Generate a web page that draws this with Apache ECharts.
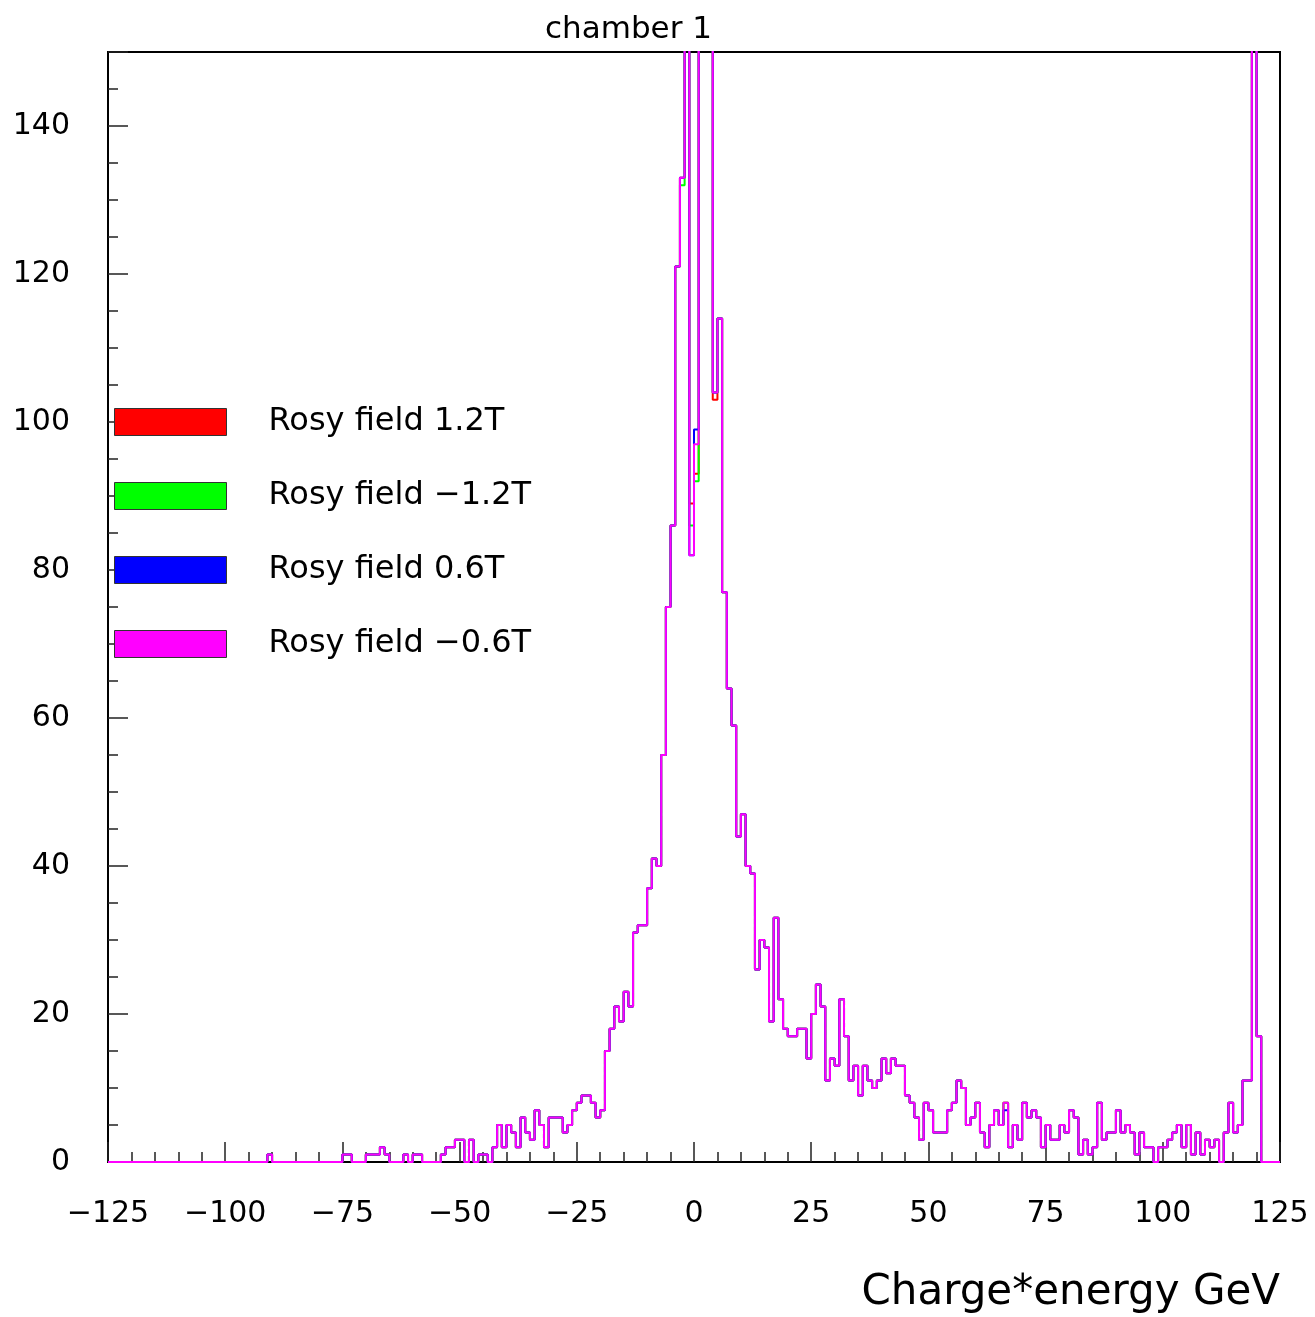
<!DOCTYPE html>
<html>
<head>
<meta charset="utf-8">
<script src="https://cdn.jsdelivr.net/npm/echarts@6/dist/echarts.min.js"></script>
<style>
html,body{margin:0;padding:0;background:#fff;}
#chart{width:1315px;height:1317px;}
</style>
</head>
<body>
<div id="chart"></div>
<script>
// Histogram binning: 250 bins of 1 GeV from -125 to 125
const binStart = -125;
const binWidth = 1;
const seriesNames = ['Rosy field 1.2T', 'Rosy field \u22121.2T', 'Rosy field 0.6T', 'Rosy field \u22120.6T'];
const seriesColors = ['#ff0000', '#00ff00', '#0000ff', '#ff00ff'];
const xTickLabels = [-125, -100, -75, -50, -25, 0, 25, 50, 75, 100, 125];
const yTickLabels = [0, 20, 40, 60, 80, 100, 120, 140];

// counts per bin (bins -125 .. 124); bins above 150 run off the top of the plot
const countsPos12 = [
  0,0,0,0,0,0,0,0,0,0,
  0,0,0,0,0,0,0,0,0,0,
  0,0,0,0,0,0,0,0,0,0,
  0,0,0,0,1,0,0,0,0,0,
  0,0,0,0,0,0,0,0,0,0,
  1,1,0,0,0,1,1,1,2,1,
  0,0,0,1,0,1,1,0,0,0,
  0,1,2,2,3,3,0,3,0,1,
  1,0,2,5,2,5,4,2,6,4,
  3,7,5,2,6,6,6,4,5,7,
  8,9,9,8,6,7,15,18,21,19,
  23,21,31,32,32,37,41,40,55,75,
  86,121,133,170,89,93,240,300,210,103,
  114,77,64,59,44,47,40,39,26,30,
  29,19,33,22,18,17,17,18,18,14,
  20,24,21,11,14,13,22,17,11,13,
  9,13,11,10,11,14,12,14,13,13,
  9,8,6,3,8,7,4,4,4,7,
  8,11,10,5,6,8,4,2,5,7,
  5,8,2,5,3,8,6,7,6,2,
  5,3,3,5,4,7,6,1,3,1,
  2,8,3,4,4,7,4,5,4,1,
  4,2,2,0,2,2,3,4,5,2,
  5,1,4,1,3,2,3,0,4,8,
  4,5,11,11,330,17,0,0,0,0
];
const countsNeg12 = [
  0,0,0,0,0,0,0,0,0,0,
  0,0,0,0,0,0,0,0,0,0,
  0,0,0,0,0,0,0,0,0,0,
  0,0,0,0,1,0,0,0,0,0,
  0,0,0,0,0,0,0,0,0,0,
  1,1,0,0,0,1,1,1,2,1,
  0,0,0,1,0,1,1,0,0,0,
  0,1,2,2,3,3,0,3,0,1,
  1,0,2,5,2,5,4,2,6,4,
  3,7,5,2,6,6,6,4,5,7,
  8,9,9,8,6,7,15,18,21,19,
  23,21,31,32,32,37,41,40,55,75,
  86,121,132,170,86,92,240,300,210,104,
  114,77,64,59,44,47,40,39,26,30,
  29,19,33,22,18,17,17,18,18,14,
  20,24,21,11,14,13,22,17,11,13,
  9,13,11,10,11,14,12,14,13,13,
  9,8,6,3,8,7,4,4,4,7,
  8,11,10,5,6,8,4,2,5,7,
  5,8,2,5,3,8,6,7,6,2,
  5,3,3,5,4,7,6,1,3,1,
  2,8,3,4,4,7,4,5,4,1,
  4,2,2,0,2,2,3,4,5,2,
  5,1,4,1,3,2,3,0,4,8,
  4,5,11,11,330,17,0,0,0,0
];
const countsPos06 = [
  0,0,0,0,0,0,0,0,0,0,
  0,0,0,0,0,0,0,0,0,0,
  0,0,0,0,0,0,0,0,0,0,
  0,0,0,0,1,0,0,0,0,0,
  0,0,0,0,0,0,0,0,0,0,
  1,1,0,0,0,1,1,1,2,1,
  0,0,0,1,0,1,1,0,0,0,
  0,1,2,2,3,3,0,3,0,1,
  1,0,2,5,2,5,4,2,6,4,
  3,7,5,2,6,6,6,4,5,7,
  8,9,9,8,6,7,15,18,21,19,
  23,21,31,32,32,37,41,40,55,75,
  86,121,133,170,82,99,240,300,210,104,
  114,77,64,59,44,47,40,39,26,30,
  29,19,33,22,18,17,17,18,18,14,
  20,24,21,11,14,13,22,17,11,13,
  9,13,11,10,11,14,12,14,13,13,
  9,8,6,3,8,7,4,4,4,7,
  8,11,10,5,6,8,4,2,5,7,
  5,7,2,5,3,8,6,7,6,2,
  5,3,3,5,4,7,6,1,3,1,
  2,8,3,4,4,7,4,5,4,1,
  4,2,2,0,2,2,3,4,5,2,
  5,1,4,1,3,2,3,0,4,8,
  4,5,11,11,330,17,0,0,0,0
];
const countsNeg06 = [
  0,0,0,0,0,0,0,0,0,0,
  0,0,0,0,0,0,0,0,0,0,
  0,0,0,0,0,0,0,0,0,0,
  0,0,0,0,1,0,0,0,0,0,
  0,0,0,0,0,0,0,0,0,0,
  1,1,0,0,0,1,1,1,2,1,
  0,0,0,1,0,1,1,0,0,0,
  0,1,2,2,3,3,0,3,0,1,
  1,0,2,5,2,5,4,2,6,4,
  3,7,5,2,6,6,6,4,5,7,
  8,9,9,8,6,7,15,18,21,19,
  23,21,31,32,32,37,41,40,55,75,
  86,121,133,170,82,97,240,300,210,104,
  114,77,64,59,44,47,40,39,26,30,
  29,19,33,22,18,17,17,18,18,14,
  20,24,21,11,14,13,22,17,11,13,
  9,13,11,10,11,14,12,14,13,13,
  9,8,6,3,8,7,4,4,4,7,
  8,11,10,5,6,8,4,2,5,7,
  5,8,2,5,3,8,6,7,6,2,
  5,3,3,5,4,7,6,1,3,1,
  2,8,3,4,4,7,4,5,4,1,
  4,2,2,0,2,2,3,4,5,2,
  5,1,4,1,3,2,3,0,4,8,
  4,5,11,11,330,17,0,0,0,0
];
const allCounts = [countsPos12, countsNeg12, countsPos06, countsNeg06];

function stepData(counts) {
  const pts = counts.map((v, i) => [binStart + i * binWidth, v]);
  pts.push([binStart + counts.length * binWidth, counts[counts.length - 1]]);
  return pts;
}
const fmtMinus = v => String(v).replace('-', '\u2212');
const FONT = 'DejaVu Sans';

const chart = echarts.init(document.getElementById('chart'), null, {renderer: 'canvas'});
chart.setOption({
  animation: false,
  backgroundColor: '#fff',
  title: {
    text: 'chamber 1',
    left: 540, top: 9,
    textStyle: {fontFamily: FONT, fontSize: 31, fontWeight: 'normal', color: '#000'}
  },
  legend: {
    orient: 'vertical',
    left: 109, top: 400,
    icon: 'rect',
    itemWidth: 112, itemHeight: 27, itemGap: 40,
    itemStyle: {borderColor: '#333', borderWidth: 1},
    textStyle: {fontFamily: FONT, fontSize: 32, color: '#000', lineHeight: 34, padding: [0, 0, 0, 37]},
    data: seriesNames
  },
  grid: {left: 108, right: 35, top: 52, bottom: 155, show: true, borderColor: '#000', borderWidth: 2, backgroundColor: 'transparent'},
  xAxis: {
    type: 'value', min: xTickLabels[0], max: xTickLabels[xTickLabels.length - 1], interval: 25,
    name: 'Charge*energy GeV', nameLocation: 'end', nameGap: 0,
    nameTextStyle: {fontFamily: FONT, fontSize: 42, color: '#000', align: 'right', verticalAlign: 'top', padding: [110, 0, 0, 0]},
    axisLine: {show: true, onZero: false, lineStyle: {color: '#000', width: 2}},
    axisTick: {show: true, inside: true, length: 20, lineStyle: {color: '#222', width: 1.5}},
    minorTick: {show: true, splitNumber: 5, length: 10, lineStyle: {color: '#222', width: 1.5}},
    splitLine: {show: false},
    axisLabel: {fontFamily: FONT, fontSize: 30, color: '#000', margin: 37, formatter: fmtMinus}
  },
  yAxis: [{
    type: 'value', min: 0, max: 150, interval: 20,
    axisLine: {show: true, onZero: false, lineStyle: {color: '#000', width: 2}},
    axisTick: {show: true, inside: true, length: 20, lineStyle: {color: '#222', width: 1.5}},
    splitLine: {show: false},
    axisLabel: {fontFamily: FONT, fontSize: 30, color: '#000', margin: 38,
      formatter: v => (yTickLabels.indexOf(v) >= 0 ? String(v) : '')}
  }, {
    type: 'value', min: 0, max: 150, interval: 5, position: 'left',
    axisLine: {show: false, onZero: false},
    axisTick: {show: true, inside: true, length: 10, lineStyle: {color: '#222', width: 1.5}},
    splitLine: {show: false},
    axisLabel: {show: false}
  }],
  series: allCounts.map((c, k) => ({
    name: seriesNames[k],
    type: 'line',
    step: 'end',
    yAxisIndex: 0,
    data: stepData(c),
    symbol: 'none',
    clip: true,
    color: seriesColors[k],
    itemStyle: {color: seriesColors[k]},
    lineStyle: {color: seriesColors[k], width: 2},
    z: 2 + k
  }))
});
</script>
</body>
</html>
